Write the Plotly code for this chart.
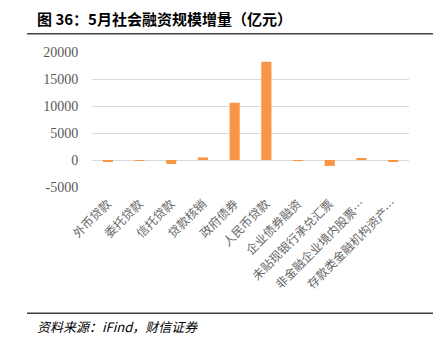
import plotly.graph_objects as go

categories = ["外币贷款", "委托贷款", "信托贷款", "贷款核销", "政府债券", "人民币贷款",
              "企业债券融资", "未贴现银行承兑汇票", "非金融企业境内股票…", "存款类金融机构资产…"]
values = [-263, -112, -727, 475, 10600, 18190, -174, -1100, 330, -220]
y_ticks = [-5000, 0, 5000, 10000, 15000, 20000]

W, H = 447, 337
PL, PR, PT, PB = 92, 409, 51.7, 186.7


def px(x):
    return (x - PL) / (PR - PL)


def py(y):
    return (PB - y) / (PB - PT)


fig = go.Figure()
fig.add_trace(go.Bar(x=categories, y=values, marker=dict(color="#F79646", line=dict(width=0))))

fig.update_layout(
    width=W, height=H,
    margin=dict(l=PL, r=W - PR, t=PT, b=H - PB, pad=0),
    paper_bgcolor="white", plot_bgcolor="white",
    bargap=0.68,
    showlegend=False,
    xaxis=dict(
        type="category", tickangle=-45, showgrid=False, showline=False, zeroline=False,
        ticks="outside", ticklen=4, tickcolor="rgba(0,0,0,0)",
        tickfont=dict(family="Noto Sans CJK SC", size=12, color="#666666"),
    ),
    yaxis=dict(
        range=[-5000, 20000], tickvals=y_ticks, ticktext=[str(v) for v in y_ticks],
        showgrid=True, gridcolor="#d9d9d9", gridwidth=1,
        zeroline=True, zerolinecolor="#d9d9d9", zerolinewidth=1,
        showline=False, ticks="outside", ticklen=10, tickcolor="rgba(0,0,0,0)",
        tickfont=dict(family="Liberation Serif", size=14, color="#595959"),
    ),
    shapes=[
        dict(type="line", xref="paper", yref="paper", x0=px(27), x1=px(433), y0=py(33.5), y1=py(33.5),
             line=dict(color="#404040", width=1.5)),
        dict(type="line", xref="paper", yref="paper", x0=px(27), x1=px(433), y0=py(313), y1=py(313),
             line=dict(color="#404040", width=1.5)),
    ],
    annotations=[
        dict(text="<b>图 36：5月社会融资规模增量（亿元）</b>", xref="paper", yref="paper",
             x=px(35), y=py(18), xanchor="left", yanchor="middle", showarrow=False,
             font=dict(family="Noto Sans CJK SC", size=15, color="#000000")),
        dict(text="<i>资料来源：iFind，财信证券</i>", xref="paper", yref="paper",
             x=px(35), y=py(326), xanchor="left", yanchor="middle", showarrow=False,
             font=dict(family="Noto Sans CJK SC", size=13, color="#000000")),
    ],
)

fig.write_html("out.html")
